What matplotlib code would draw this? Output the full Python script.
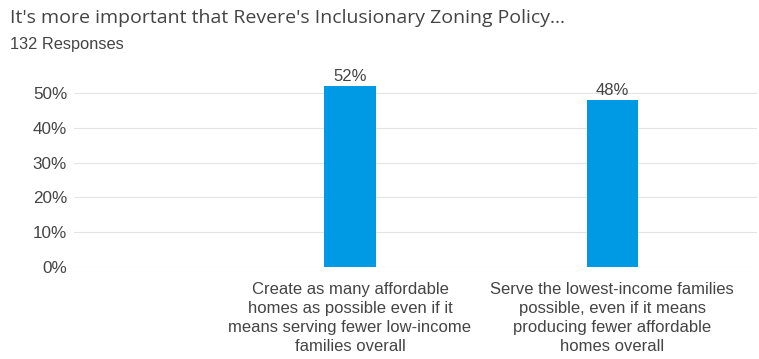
import matplotlib.pyplot as plt
from matplotlib.ticker import PercentFormatter

plt.rcParams['font.family'] = ['Liberation Sans', 'DejaVu Sans']

title = "It's more important that Revere's Inclusionary Zoning Policy..."
subtitle = "132 Responses"
answers = [
    "Create as many affordable\nhomes as possible even if it\nmeans serving fewer low-income\nfamilies overall",
    "Serve the lowest-income families\npossible, even if it means\nproducing fewer affordable\nhomes overall",
]
shares = [52, 48]

text_col = '#444444'
bar_col = '#0099e3'

fig = plt.figure(figsize=(7.59, 3.59), dpi=100)
ax = fig.add_axes([74 / 759, 1 - 267 / 359, 683 / 759, 191.4 / 359])

pos = list(range(len(shares)))
bars = ax.bar(pos, [s / 100 for s in shares], width=0.195, color=bar_col, zorder=3)
for b, s in zip(bars, shares):
    ax.annotate(f"{s}%", (b.get_x() + b.get_width() / 2, b.get_height()),
                xytext=(0, 1.5), textcoords='offset points', ha='center', va='bottom',
                fontsize=12, color=text_col)

ax.set_xlim(-1.053, 1.553)
ax.set_ylim(0, 0.55)
ax.set_yticks([0, 0.1, 0.2, 0.3, 0.4, 0.5])
ax.yaxis.set_major_formatter(PercentFormatter(1.0, decimals=0))
ax.grid(axis='y', color='#e4e4e4', linewidth=0.8, zorder=0)
ax.set_xticks(pos)
ax.set_xticklabels(answers, fontsize=12, color=text_col, linespacing=1.32)
ax.tick_params(axis='x', length=0, pad=11)
ax.tick_params(axis='y', length=0, pad=5, labelsize=12.3, labelcolor=text_col)
for sp in ax.spines.values():
    sp.set_visible(False)

fig.text(10 / 759, 1 - 18 / 359, title, fontsize=14, color=text_col,
         family=['Open Sans', 'DejaVu Sans'], va='center')
fig.text(10 / 759, 1 - 45 / 359, subtitle, fontsize=11.8, color=text_col, va='center')

fig.savefig('out.png', dpi=100)
